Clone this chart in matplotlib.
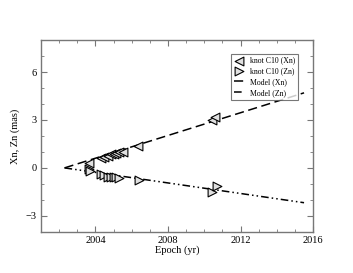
import matplotlib
matplotlib.use("Agg")
import matplotlib.pyplot as plt
from matplotlib.ticker import MultipleLocator

plt.rcParams['font.family'] = ['Liberation Serif', 'DejaVu Serif']

# knot C10 positions
xn_epoch = [2003.65, 2004.3, 2004.5, 2004.7, 2004.85, 2005.0, 2005.15,
            2005.3, 2005.5, 2006.35, 2010.45, 2010.6]
xn_val = [0.3, 0.65, 0.7, 0.75, 0.85, 0.9, 0.95, 1.0, 1.0, 1.38, 3.0, 3.18]

zn_epoch = [2003.65, 2003.7, 2004.3, 2004.5, 2004.7, 2004.85, 2005.0,
            2005.15, 2005.3, 2006.4, 2010.45, 2010.7]
zn_val = [-0.08, -0.2, -0.4, -0.45, -0.55, -0.6, -0.6, -0.6, -0.62,
          -0.75, -1.48, -1.12]

# model lines
model_epoch = [2002.3, 2015.5]
model_xn = [0.0, 4.7]
model_zn = [0.0, -2.18]

fig = plt.figure(figsize=(3.53, 2.73), dpi=100)
ax = fig.add_axes([0.116, 0.151, 0.771, 0.702])

ax.plot(model_epoch, model_xn, color='black', lw=1.1,
        dashes=(6, 3), label='Model (Xn)')
ax.plot(model_epoch, model_zn, color='black', lw=1.1,
        dashes=(5, 2, 1, 2, 1, 2), label='Model (Zn)')
ax.scatter(xn_epoch, xn_val, marker='<', s=40, facecolor='#e0e0e0',
           edgecolor='black', linewidths=0.8, zorder=3,
           label='knot C10 (Xn)')
ax.scatter(zn_epoch, zn_val, marker='>', s=40, facecolor='#e0e0e0',
           edgecolor='black', linewidths=0.8, zorder=3,
           label='knot C10 (Zn)')

ax.set_xlim(2001, 2016)
ax.set_ylim(-4, 8)
ax.xaxis.set_major_locator(MultipleLocator(4))
ax.xaxis.set_minor_locator(MultipleLocator(1))
ax.yaxis.set_major_locator(MultipleLocator(3))
ax.yaxis.set_minor_locator(MultipleLocator(1))
ax.tick_params(which='both', direction='in', top=True, right=True,
               color='#777777', labelsize=7.5, pad=3)
ax.tick_params(which='major', length=4)
ax.tick_params(which='minor', length=2)
for s in ax.spines.values():
    s.set_color('#777777')
    s.set_linewidth(1.0)

ax.set_xlabel('Epoch (yr)', fontsize=7.5, labelpad=0)
ax.set_ylabel('Xn, Zn (mas)', fontsize=7.5, labelpad=4)

handles, labels = ax.get_legend_handles_labels()
order = [2, 3, 0, 1]
leg = ax.legend([handles[i] for i in order], [labels[i] for i in order],
                loc='upper right', bbox_to_anchor=(0.945, 0.93),
                fontsize=5.6, frameon=True, fancybox=False,
                handlelength=1.3, handletextpad=0.7, borderpad=0.4,
                labelspacing=0.35, borderaxespad=0)
leg.get_frame().set_edgecolor('#555555')
leg.get_frame().set_linewidth(0.8)

fig.savefig('out.png', dpi=100)
